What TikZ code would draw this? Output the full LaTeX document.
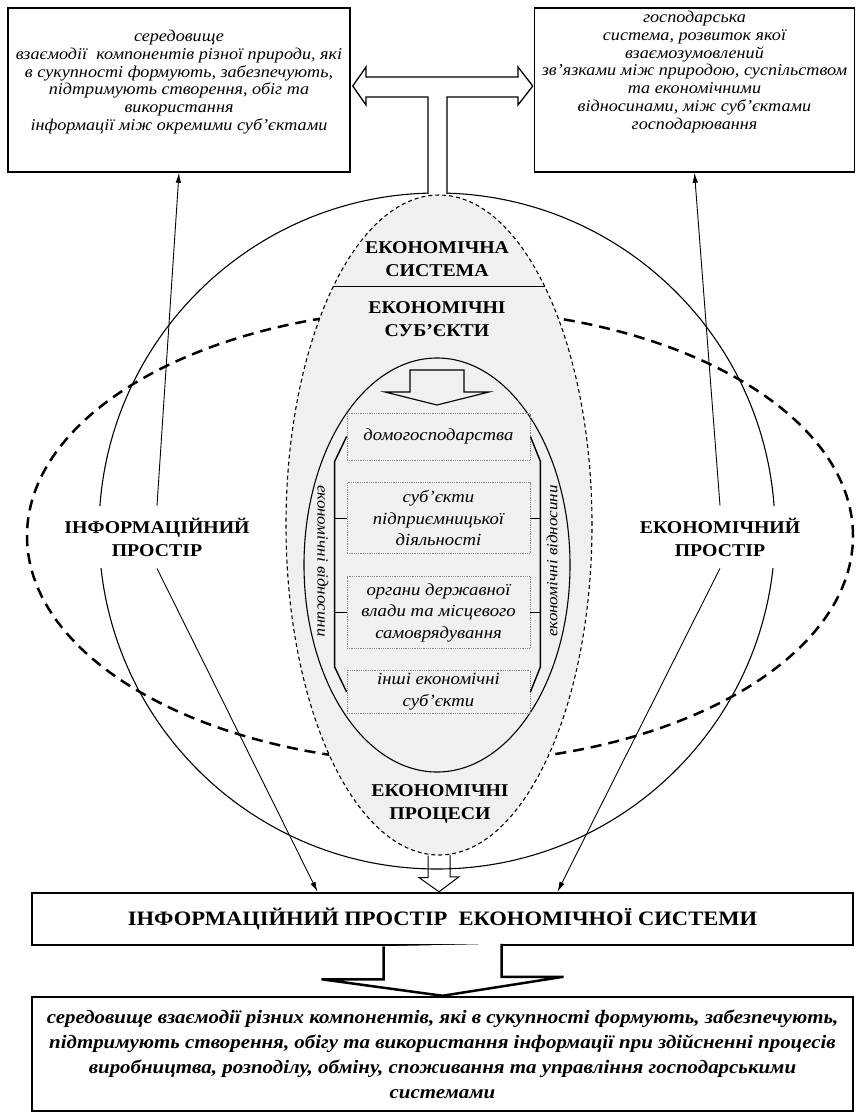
\documentclass[tikz,border=0pt]{standalone}
\usepackage{fontspec}
\setmainfont[FakeStretch=1.1]{Liberation Serif}
\usetikzlibrary{positioning,shapes.geometric,calc,arrows.meta}
\tikzset{
  topbox/.style={draw=black, line width=1.5pt, minimum height=164pt, inner sep=0pt},
  toptext/.style={align=center, font=\fontsize{16.5}{17.8}\selectfont\itshape},
  caps/.style={align=center, font=\fontsize{18}{23}\selectfont\bfseries},
  spacelabel/.style={caps, fill=white, inner xsep=3pt, inner ysep=12pt},
  subjbox/.style={draw=black!45, densely dotted, line width=0.8pt, minimum width=183pt, align=center, font=\fontsize{17}{21.5}\selectfont\itshape},
  relation/.style={font=\fontsize{15.5}{17}\selectfont\itshape},
  bracket/.style={draw=black, line width=1.4pt},
  thickbox/.style={draw=black, line width=2.5pt, minimum width=821pt, inner sep=0pt},
  link/.style={draw=black, line width=0.9pt}
}

\begin{document}
\begin{tikzpicture}[x=1pt, y=-1pt, >={Latex[length=10pt, width=5.5pt]}]
  \useasboundingbox (0,0) rectangle (860,1113);
  % Spaces
  \draw[line width=1.1pt] (437,531) circle [radius=338pt];
  \draw[line width=2.5pt, dash pattern=on 11pt off 7pt] (440,536) ellipse [x radius=413pt, y radius=227pt];
  \node (egg) [ellipse, draw=black, fill=black!6, line width=1.1pt, dash pattern=on 4pt off 3pt, minimum width=306pt, minimum height=660pt, inner sep=0pt] at (439,525) {};
  \node (ring) [ellipse, draw=black, line width=1.1pt, minimum width=266pt, minimum height=414pt, inner sep=0pt] at (437,565) {};
  \draw[line width=1.4pt] (egg.114) -- (egg.66);
  \draw[line width=1.2pt] (410,370) -- (410,392) -- (385,392) -- (437,405) -- (489,392) -- (464,392) -- (464,370) -- cycle;

  % Nodes
  \node (infobox) [topbox, minimum width=342pt] at (179,90) {};
  \node (infotext) [toptext] at ([yshift=8pt]infobox.center) {
    середовище\\
    взаємодії\ \ компонентів різної природи, які\\
    в сукупності формують, забезпечують,\\
    підтримують створення, обіг та\\
    використання\\
    інформації між окремими суб’єктами
  };
  \node (econbox) [topbox, minimum width=320pt, right=183pt of infobox] {};
  \node (econtext) [toptext] at ([yshift=18pt]econbox.center) {
    господарська\\
    система, розвиток якої\\
    взаємозумовлений\\
    зв’язками між природою, суспільством\\
    та економічними\\
    відносинами, між суб’єктами\\
    господарювання
  };
  \node (systemlabel) [caps] at (437,259) {ЕКОНОМІЧНА\\СИСТЕМА};
  \node (subjlabel) [caps] at (437,319) {ЕКОНОМІЧНІ\\СУБ’ЄКТИ};
  \node (proclabel) [caps] at (440,804) {ЕКОНОМІЧНІ\\ПРОЦЕСИ};
  \node (household) [subjbox, minimum height=47pt] at (438.5,436.5) {домогосподарства};
  \node (business) [subjbox, minimum height=71pt, below=22pt of household] {суб’єкти\\підприємницької\\діяльності};
  \node (authority) [subjbox, minimum height=72pt, below=22pt of business] {органи державної\\влади та місцевого\\самоврядування};
  \node (others) [subjbox, minimum height=42pt, below=21pt of authority] {інші економічні\\суб’єкти};
  \node (leftrel) [relation, rotate=-90] at (323,561) {економічні відносини};
  \node (rightrel) [relation, rotate=90] at (552,561) {економічні відносини};
  \node (infolabel) [spacelabel] at (157,537) {ІНФОРМАЦІЙНИЙ\\ПРОСТІР};
  \node (econlabel) [spacelabel] at (720,537) {ЕКОНОМІЧНИЙ\\ПРОСТІР};
  \node (titlebox) [thickbox, minimum height=52pt, font=\fontsize{20.5}{24}\selectfont\bfseries] at (442.5,919) {ІНФОРМАЦІЙНИЙ ПРОСТІР\ \ ЕКОНОМІЧНОЇ СИСТЕМИ};
  \node (defbox) [thickbox, minimum height=114pt, align=center, font=\fontsize{19}{25}\selectfont\bfseries\itshape] at (442.5,1054) {
    середовище взаємодії різних компонентів, які в сукупності формують, забезпечують,\\
    підтримують створення, обігу та використання інформації при здійсненні процесів\\
    виробництва, розподілу, обміну, споживання та управління господарськими\\
    системами
  };

  % Brackets
  \draw[bracket] (household.west) -- ++(-12,25) -- ([xshift=-12pt, yshift=25pt]others.west) -- (others.west);
  \draw[bracket] (business.west) -- ++(-12,0);
  \draw[bracket] (authority.west) -- ++(-12,0);
  \draw[bracket] (household.east) -- ++(10,25) -- ([xshift=10pt, yshift=25pt]others.east) -- (others.east);
  \draw[bracket] (business.east) -- ++(10,0);
  \draw[bracket] (authority.east) -- ++(10,0);

  % Block arrows
  \draw[line width=1.3pt, fill=white] (428,194) -- (428,97) -- (366,97) -- (366,105) -- ([xshift=2pt, yshift=4pt]infobox.east) -- (366,67) -- (366,77) -- (518,77) -- (518,67) -- ([xshift=-1pt, yshift=4pt]econbox.west) -- (518,105) -- (518,97) -- (447,97) -- (447,194);
  \draw[line width=1pt] ([xshift=-11pt]egg.south) -- ++(0,22) -- ++(-9,0) -- (egg.south |- titlebox.north) -- ++(20,-15) -- ++(-9,0) -- ++(0,-22);
  \draw[line width=2.5pt, fill=white] ([xshift=-59pt]titlebox.south) -- ++(0,33) -- ++(-62,0) -- (defbox.north) -- ++(121,-19) -- ++(-62,0) -- ++(0,-33);

  % Links
  \draw[->, link] (infolabel.north) -- (infobox.south);
  \draw[->, link] (infolabel.south) -- ([xshift=-125pt]titlebox.north);
  \draw[->, link] (econlabel.north) -- (econbox.south);
  \draw[->, link] (econlabel.south) -- ([xshift=115pt]titlebox.north);
\end{tikzpicture}
\end{document}
